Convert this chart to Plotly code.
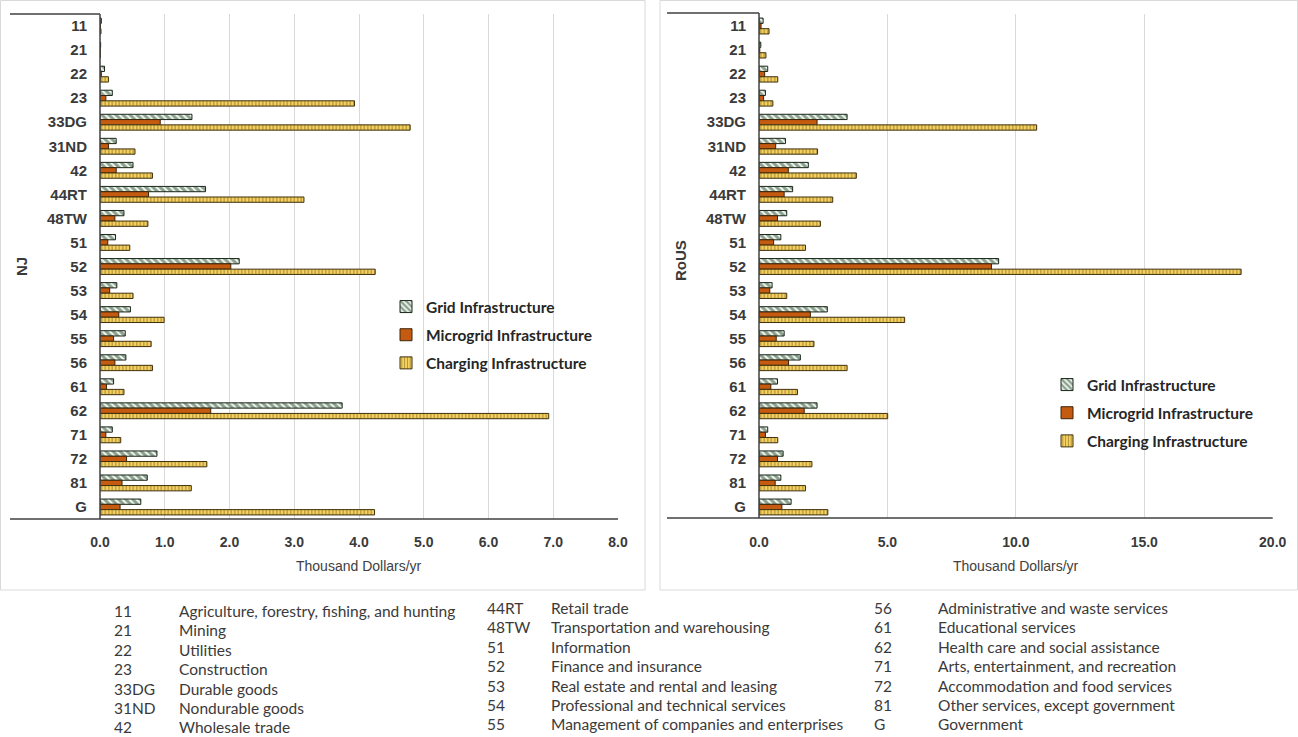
import plotly.graph_objects as go

# ---------------- data ----------------
categories = ["11", "21", "22", "23", "33DG", "31ND", "42", "44RT", "48TW", "51", "52",
              "53", "54", "55", "56", "61", "62", "71", "72", "81", "G"]

nj_grid = [0.02, 0.01, 0.07, 0.19, 1.42, 0.25, 0.51, 1.63, 0.37, 0.24, 2.15,
           0.26, 0.47, 0.39, 0.40, 0.21, 3.74, 0.19, 0.88, 0.73, 0.63]
nj_micro = [0.005, 0.003, 0.02, 0.09, 0.93, 0.13, 0.25, 0.75, 0.23, 0.12, 2.02,
            0.15, 0.29, 0.21, 0.23, 0.10, 1.71, 0.09, 0.41, 0.34, 0.31]
nj_charging = [0.015, 0.005, 0.13, 3.93, 4.79, 0.54, 0.81, 3.15, 0.74, 0.46, 4.25,
               0.51, 0.99, 0.79, 0.81, 0.37, 6.93, 0.32, 1.65, 1.41, 4.24]

rous_grid = [0.16, 0.07, 0.34, 0.25, 3.43, 1.03, 1.92, 1.31, 1.08, 0.85, 9.33,
             0.51, 2.66, 0.98, 1.61, 0.72, 2.26, 0.34, 0.94, 0.85, 1.25]
rous_micro = [0.08, 0.03, 0.22, 0.18, 2.26, 0.65, 1.14, 0.98, 0.72, 0.57, 9.05,
              0.42, 2.00, 0.67, 1.15, 0.46, 1.76, 0.25, 0.72, 0.63, 0.89]
rous_charging = [0.39, 0.27, 0.73, 0.54, 10.81, 2.28, 3.79, 2.87, 2.39, 1.81, 18.77,
                 1.08, 5.67, 2.14, 3.43, 1.50, 5.01, 0.73, 2.06, 1.81, 2.68]

series_names = ["Grid Infrastructure", "Microgrid Infrastructure", "Charging Infrastructure"]
panel_titles = ["NJ", "RoUS"]
x_title = "Thousand Dollars/yr"
nj_ticks = [0, 1, 2, 3, 4, 5, 6, 7, 8]
rous_ticks = [0, 5, 10, 15, 20]

code_col1 = ["11", "21", "22", "23", "33DG", "31ND", "42"]
desc_col1 = ["Agriculture, forestry, fishing, and hunting", "Mining", "Utilities", "Construction",
             "Durable goods", "Nondurable goods", "Wholesale trade"]
code_col2 = ["44RT", "48TW", "51", "52", "53", "54", "55"]
desc_col2 = ["Retail trade", "Transportation and warehousing", "Information", "Finance and insurance",
             "Real estate and rental and leasing", "Professional and technical services",
             "Management of companies and enterprises"]
code_col3 = ["56", "61", "62", "71", "72", "81", "G"]
desc_col3 = ["Administrative and waste services", "Educational services", "Health care and social assistance",
             "Arts, entertainment, and recreation", "Accommodation and food services",
             "Other services, except government", "Government"]

# ---------------- styling ----------------
W, H = 1298, 737
def px_x(p): return p / W
def px_y(p): return 1 - p / H

styles = [
    dict(color="#ffffff", pattern=dict(shape="\\", fgcolor="#214a2c", bgcolor="#f4f8f2", size=5, solidity=0.6),
         line=dict(color="#1a261a", width=1)),
    dict(color="#c55a11", line=dict(color="#3b2408", width=1)),
    dict(color="#f2c94c", pattern=dict(shape="|", fgcolor="#6e5210", bgcolor="#f5d160", size=3.5, solidity=0.35),
         line=dict(color="#3e300c", width=1)),
]

tick_font = dict(family="Liberation Sans Narrow, Arial Narrow, Liberation Sans, Arial", size=14,
                 color="#3a3a3a", weight="bold")
cat_font = dict(family="Liberation Sans Narrow, Arial Narrow, Liberation Sans, Arial", size=15,
                color="#3a3a3a", weight="bold")
legend_font = dict(family="Lato, Open Sans, sans-serif", size=15.5, color="#262626", weight="bold")
table_font = dict(family="Lato, Open Sans, sans-serif", size=15.5, color="#3a3a3a")

fig = go.Figure()

panels = [
    dict(vals=[nj_grid, nj_micro, nj_charging], xa="x", ya="y", legend="legend", grp="L"),
    dict(vals=[rous_grid, rous_micro, rous_charging], xa="x2", ya="y2", legend="legend2", grp="R"),
]
for p in panels:
    for i, (name, vals) in enumerate(zip(series_names, p["vals"])):
        fig.add_trace(go.Bar(
            y=categories, x=vals, name=name, orientation="h",
            marker=styles[i], xaxis=p["xa"], yaxis=p["ya"],
            legend=p["legend"], legendgroup=p["grp"] + str(i),
        ))

y_top, y_bot = 14, 519
left_x0, left_x1 = 100, 618
right_x0, right_x1 = 759, 1272.7

axis_common = dict(showgrid=True, gridcolor="#d9d9d9", gridwidth=1, zeroline=False,
                   showline=False, ticks="", tickfont=tick_font, tickformat=".1f",
                   ticklabelstandoff=13, fixedrange=True, automargin=False)
yaxis_common = dict(autorange="reversed", categoryorder="array", categoryarray=categories,
                    showgrid=False, zeroline=False, showline=False, ticks="",
                    tickfont=cat_font, ticklabelstandoff=12, fixedrange=True, automargin=False)

fig.update_layout(
    width=W, height=H, margin=dict(l=0, r=0, t=0, b=0, pad=0), autosize=False,
    paper_bgcolor="white", plot_bgcolor="white",
    barmode="group", bargap=0.34, bargroupgap=0.0,
    xaxis=dict(domain=[px_x(left_x0), px_x(left_x1)], range=[0, 8], tickvals=nj_ticks,
               anchor="y", **axis_common),
    yaxis=dict(domain=[px_y(y_bot), px_y(y_top)], anchor="x", **yaxis_common),
    xaxis2=dict(domain=[px_x(right_x0), px_x(right_x1)], range=[0, 20], tickvals=rous_ticks,
                anchor="y2", **axis_common),
    yaxis2=dict(domain=[px_y(y_bot), px_y(y_top)], anchor="x2", **yaxis_common),
    legend=dict(x=px_x(386), y=px_y(290), xanchor="left", yanchor="top", font=legend_font,
                bgcolor="rgba(0,0,0,0)", tracegroupgap=5, itemwidth=30),
    legend2=dict(x=px_x(1047), y=px_y(368), xanchor="left", yanchor="top", font=legend_font,
                 bgcolor="rgba(0,0,0,0)", tracegroupgap=5, itemwidth=30),
    showlegend=True,
)

shapes = []
line_col = "#404040"
# chart area borders
shapes.append(dict(type="rect", xref="paper", yref="paper", x0=px_x(0.5), x1=px_x(645), y0=px_y(590), y1=px_y(0.5),
                   line=dict(color="#d9d9d9", width=1)))
shapes.append(dict(type="rect", xref="paper", yref="paper", x0=px_x(660), x1=px_x(1297.5), y0=px_y(590), y1=px_y(0.5),
                   line=dict(color="#d9d9d9", width=1)))
for (x_label, x0, x1, yt, yb) in [(10, left_x0, left_x1, 14, 519), (667, right_x0, right_x1, 13, 518)]:
    shapes.append(dict(type="line", xref="paper", yref="paper", x0=px_x(x_label), x1=px_x(x1),
                       y0=px_y(yb), y1=px_y(yb), line=dict(color=line_col, width=1.5)))
    shapes.append(dict(type="line", xref="paper", yref="paper", x0=px_x(x_label), x1=px_x(x0),
                       y0=px_y(yt), y1=px_y(yt), line=dict(color=line_col, width=1.5)))
    shapes.append(dict(type="line", xref="paper", yref="paper", x0=px_x(x0), x1=px_x(x0),
                       y0=px_y(yb), y1=px_y(yt), line=dict(color=line_col, width=1.5)))
fig.update_layout(shapes=shapes)

ann = []
title_font = dict(family="Liberation Sans Narrow, Arial Narrow, Liberation Sans, Arial", size=14, color="#404040")
ann.append(dict(text=x_title, x=px_x((left_x0 + left_x1) / 2), y=px_y(566), xref="paper", yref="paper",
                showarrow=False, font=title_font, xanchor="center", yanchor="middle"))
ann.append(dict(text=x_title, x=px_x((right_x0 + right_x1) / 2), y=px_y(566), xref="paper", yref="paper",
                showarrow=False, font=title_font, xanchor="center", yanchor="middle"))
ann.append(dict(text=panel_titles[0], x=px_x(21), y=px_y(267), xref="paper", yref="paper", textangle=-90,
                showarrow=False, font=cat_font, xanchor="center", yanchor="middle"))
ann.append(dict(text=panel_titles[1], x=px_x(680), y=px_y(261), xref="paper", yref="paper", textangle=-90,
                showarrow=False, font=cat_font, xanchor="center", yanchor="middle"))

cols = [(code_col1, desc_col1, 112, 177, 611), (code_col2, desc_col2, 485, 549, 608),
        (code_col3, desc_col3, 872, 936, 608)]
for codes, descs, cx, dx, y0 in cols:
    for r, (c, d) in enumerate(zip(codes, descs)):
        yy = y0 + r * 19.4
        ann.append(dict(text=c, x=px_x(cx), y=px_y(yy), xref="paper", yref="paper", showarrow=False,
                        font=table_font, xanchor="left", yanchor="middle"))
        ann.append(dict(text=d, x=px_x(dx), y=px_y(yy), xref="paper", yref="paper", showarrow=False,
                        font=table_font, xanchor="left", yanchor="middle"))
fig.update_layout(annotations=ann)

fig.write_html("out.html")
